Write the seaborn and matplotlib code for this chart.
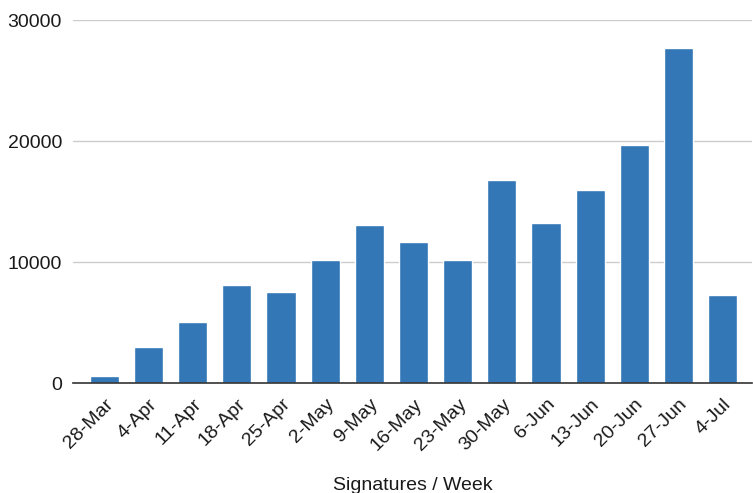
import matplotlib
matplotlib.use("Agg")
import matplotlib.pyplot as plt
import seaborn as sns
import pandas as pd

weeks = ["28-Mar", "4-Apr", "11-Apr", "18-Apr", "25-Apr", "2-May", "9-May", "16-May",
         "23-May", "30-May", "6-Jun", "13-Jun", "20-Jun", "27-Jun", "4-Jul"]
signatures = [580, 2950, 5060, 8090, 7570, 10200, 13090, 11630,
              10200, 16800, 13230, 15980, 19690, 27720, 7290]

df = pd.DataFrame({"week": weeks, "signatures": signatures})

sns.set_style("white")
plt.rcParams["font.family"] = ["Liberation Sans", "DejaVu Sans"]

fig = plt.figure(figsize=(7.53, 4.93), dpi=100)
ax = fig.add_axes([0.097, 0.223, 0.902, 0.736])

sns.barplot(data=df, x="week", y="signatures", color="#3377b6", width=0.66,
            saturation=1, ax=ax, zorder=3)

ax.set_xlim(-0.71, 14.67)
ax.set_ylim(0, 30000)
ax.set_yticks([0, 10000, 20000, 30000])
ax.set_yticklabels(["0", "10000", "20000", "30000"])
ax.yaxis.grid(True, color="#cccccc", linewidth=1, zorder=0)
ax.set_axisbelow(True)
for s in ["top", "right", "left"]:
    ax.spines[s].set_visible(False)
ax.spines["bottom"].set_color("#333333")
ax.spines["bottom"].set_linewidth(1.2)
ax.spines["bottom"].set_zorder(4)
ax.tick_params(axis="both", length=0, labelsize=14, colors="#1a1a1a")
ax.tick_params(axis="y", pad=8)
ax.tick_params(axis="x", pad=9)
plt.setp(ax.get_xticklabels(), rotation=45, ha="right", rotation_mode="anchor")
ax.set_ylabel("")
ax.set_xlabel("Signatures / Week", fontsize=14, color="#1a1a1a", labelpad=17)

fig.savefig("out.png", dpi=100)
